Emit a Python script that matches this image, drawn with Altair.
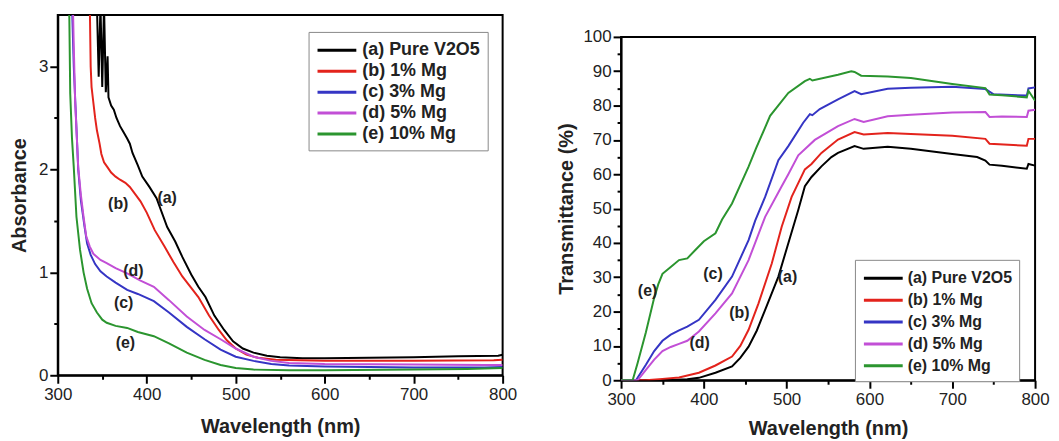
import altair as alt
import pandas as pd

SERIES = ["(a) Pure V2O5", "(b) 1% Mg", "(c) 3% Mg", "(d) 5% Mg", "(e) 10% Mg"]
COLORS = ["#000000", "#e3231c", "#3535c4", "#c24fd6", "#2b952f"]

# Absorbance (left panel): (wavelength nm, absorbance)
A_ABS = [(344,3.6),(346,2.9),(348,3.6),(350,2.8),(352,3.6),(354,2.75),(356,3.1),(357,2.7),(360,2.62),(363,2.58),
         (366,2.5),(370,2.42),(374,2.36),(378,2.3),(381,2.25),(384,2.16),(390,2.04),(395,1.93),(403,1.83),(411,1.72),
         (423,1.44),(432,1.3),(440,1.15),(450,0.98),(458,0.86),(466,0.76),(476,0.58),(487,0.44),(497,0.33),(508,0.26),
         (520,0.22),(535,0.19),(550,0.175),(575,0.165),(600,0.165),(650,0.17),(700,0.175),(750,0.185),(795,0.19),(800,0.2)]
B_ABS = [(336,3.6),(337,3.0),(338,2.8),(340,2.65),(342,2.5),(344,2.38),(347,2.25),(349,2.15),(352,2.07),(356,2.02),
         (360,1.97),(365,1.93),(370,1.9),(376,1.87),(381,1.83),(387,1.76),(393,1.69),(400,1.58),(409,1.41),(420,1.25),
         (430,1.1),(440,0.96),(450,0.85),(458,0.76),(470,0.58),(481,0.44),(490,0.34),(500,0.26),(512,0.2),(525,0.17),
         (545,0.15),(600,0.14),(700,0.14),(790,0.145),(800,0.15)]
C_ABS = [(316,3.6),(318,3.0),(320,2.6),(323,2.0),(326,1.7),(330,1.45),(333,1.28),(337,1.17),(342,1.08),(348,1.01),
         (355,0.96),(365,0.9),(378,0.83),(390,0.79),(408,0.72),(425,0.61),(445,0.47),(465,0.35),(483,0.25),(500,0.18),
         (520,0.14),(540,0.11),(560,0.095),(600,0.085),(700,0.075),(780,0.075),(800,0.08)]
D_ABS = [(317,3.6),(318,3.2),(319.5,2.67),(323,2.02),(326,1.75),(329,1.54),(332,1.35),(336,1.25),(340,1.18),(348,1.12),
         (355,1.09),(365,1.04),(378,0.99),(393,0.92),(408,0.86),(425,0.73),(445,0.57),(465,0.44),(483,0.35),(500,0.26),
         (520,0.18),(540,0.14),(560,0.12),(600,0.11),(700,0.105),(780,0.1),(800,0.1)]
E_ABS = [(312,3.6),(313,3.48),(314,2.74),(316,2.3),(318,2.02),(321,1.54),(325,1.22),(329,1.0),(333,0.84),(338,0.7),
         (344,0.61),(350,0.54),(355,0.51),(365,0.48),(378,0.46),(390,0.42),(408,0.38),(425,0.31),(445,0.22),(465,0.15),
         (483,0.1),(500,0.07),(520,0.055),(560,0.05),(600,0.05),(700,0.055),(760,0.06),(800,0.07)]

# Transmittance (right panel): (wavelength nm, %)
A_T = [(300,0),(340,0),(360,0.1),(380,0.3),(394,0.7),(414,2.2),(434,4),(444,6.5),(454,9.8),(464,14.5),(474,20.5),
       (490,30.2),(502,39.9),(514,49.6),(522,56.5),(530,59.2),(542,62.3),(554,65),(562,66.2),(582,68.2),(593,67.4),
       (622,68),(650,67.4),(700,65.9),(730,65),(740,64),(745,62.8),(760,62.5),(790,61.6),(792,63),(800,62.5)]
B_T = [(300,0),(330,0),(350,0.4),(370,0.8),(394,2.2),(414,4.3),(434,6.9),(444,10),(454,14.7),(466,22.4),(482,34),
       (494,44.7),(506,53.4),(522,61.4),(530,63),(542,66.2),(562,70.1),(582,72.3),(593,71.6),(622,72),(650,71.7),
       (700,71.2),(740,70.3),(745,68.9),(790,68.3),(792,70.3),(800,70.3)]
C_T = [(300,0),(318,0),(330,4.5),(340,8.5),(350,11.5),(360,13.3),(370,14.5),(380,15.6),(394,17.6),(414,23.4),(434,30.2),
       (454,40.8),(462,46.5),(474,53.4),(490,64.1),(502,68.2),(520,75),(528,77.5),(531,77.2),(540,79),(562,81.8),
       (582,84.2),(590,83.3),(622,84.9),(650,85.2),(700,85.5),(740,84.8),(750,83.3),(790,82.9),(792,85),(800,85.3)]
D_T = [(300,0),(320,0),(330,3),(340,6),(350,8.5),(360,9.7),(370,10.6),(380,11.5),(394,14.2),(414,19.5),(434,25.3),
       (454,35),(474,47.6),(494,56.5),(502,60),(514,65.5),(534,70),(562,74),(582,76.1),(593,75.2),(622,76.9),(650,77.3),
       (700,78),(740,78.1),(745,76.7),(760,76.8),(790,76.7),(792,78.5),(800,78.8)]
E_T = [(300,0),(314,0),(320,5),(330,14),(340,24),(345,28),(350,31),(360,33),(370,35),(380,35.5),(390,38),(400,40.5),
       (414,42.8),(422,46.8),(434,51.5),(454,62.2),(463,67.5),(480,77),(502,83.7),(522,87.1),(528,87.8),(531,87.3),
       (562,89),(578,90),(582,89.8),(590,88.7),(622,88.5),(650,88),(700,86.3),(740,85.1),(745,83.2),(760,83),(790,82.4),
       (792,84.3),(800,81.4)]

ABS_LABELS = [("(a)", 423, 1.72), ("(b)", 368, 1.66), ("(c)", 374, 0.70), ("(d)", 385, 1.01), ("(e)", 376, 0.31)]
T_LABELS = [("(a)", 501, 30), ("(b)", 443, 19.5), ("(c)", 411, 31), ("(d)", 395, 10.7), ("(e)", 332, 26)]

X_TICKS = list(range(300, 801, 50))
ABS_TICKS = [0, 0.5, 1, 1.5, 2, 2.5, 3]
T_TICKS = list(range(0, 101, 5))

FONT = "Liberation Sans"


def frame(series_lists, yname):
    rows = []
    for name, pts in zip(SERIES, series_lists):
        for wl, v in pts:
            rows.append({"series": name, "wl": wl, yname: v})
    return pd.DataFrame(rows)


abs_df = frame([A_ABS, B_ABS, C_ABS, D_ABS, E_ABS], "val")
t_df = frame([A_T, B_T, C_T, D_T, E_T], "val")
abs_lab = pd.DataFrame(ABS_LABELS, columns=["txt", "wl", "val"])
t_lab = pd.DataFrame(T_LABELS, columns=["txt", "wl", "val"])


def axis(title, values, major_test, title_pad, label_pad=3):
    return alt.Axis(
        title=title, values=values, tickCount=100, grid=False, labelOverlap=False, labelFlush=False,
        labelExpr=f"({major_test}) ? format(datum.value, 'd') : ''",
        labelFontSize={"condition": {"test": major_test, "value": 17}, "value": 1},
        tickSize={"condition": {"test": major_test, "value": 8}, "value": 4},
        tickWidth=2, tickColor="black", domainColor="black", domainWidth=2,
        labelFont=FONT, labelColor="#222222", labelPadding=label_pad,
        titleFont=FONT, titleFontSize=20, titleFontWeight="bold", titleColor="#222222",
        titlePadding=title_pad,
    )


def panel(df, lab, ydomain, yticks, ytitle, ymajor, w, h, lx, ly, lfs, loff, rpad, ytp, xtp):
    x = alt.X("wl:Q", scale=alt.Scale(domain=[300, 800], nice=False, zero=False),
              axis=axis("Wavelength (nm)", X_TICKS, "datum.value % 100 === 0", xtp))
    y = alt.Y("val:Q", scale=alt.Scale(domain=ydomain, nice=False),
              axis=axis(ytitle, yticks, ymajor, ytp, 2))
    lines = alt.Chart(df).mark_line(clip=True, strokeWidth=2).encode(
        x=x, y=y,
        color=alt.Color("series:N", scale=alt.Scale(domain=SERIES, range=COLORS),
                        legend=alt.Legend(
                            title=None, orient="none", legendX=lx, legendY=ly,
                            symbolType="M-2,0H2", symbolSize=380, symbolStrokeWidth=3,
                            symbolOffset=10,
                            labelFont=FONT, labelFontSize=lfs, labelFontWeight="bold",
                            labelColor="#222222", labelOffset=loff,
                            strokeColor="#888888", fillColor="white", padding=7,
                            rowPadding=rpad, labelLimit=300)),
        detail="series:N",
    )
    texts = alt.Chart(lab).mark_text(font=FONT, fontSize=16, fontWeight="bold", color="#222222").encode(
        x="wl:Q", y="val:Q", text="txt:N")
    return alt.layer(lines, texts).properties(width=w, height=h)


left = panel(abs_df, abs_lab, [0, 3.5], ABS_TICKS, "Absorbance", "datum.value % 1 === 0",
             447, 362, 252, 17, 18, 14, 0, 9, 14)
right = panel(t_df, t_lab, [0, 100], T_TICKS, "Transmittance (%)", "datum.value % 10 === 0",
              416, 345, 235, 246, 16, 13, 2, 6, 12)

spacer = alt.Chart(pd.DataFrame({"z": [0]})).mark_point(opacity=0).encode(
    x=alt.value(0), y=alt.value(0)).properties(width=10, height=11, view=alt.ViewBackground(stroke="transparent"))

right_col = alt.vconcat(spacer, right, spacing=0)

chart = alt.hconcat(left, right_col, spacing=37).resolve_scale(color="independent").resolve_legend(
    color="independent").properties(padding={"left": 0, "top": 2, "right": 0, "bottom": 0}).configure_view(
    stroke="black", strokeWidth=2)

chart.save("out.html", embed_options={"renderer": "svg", "actions": False})
